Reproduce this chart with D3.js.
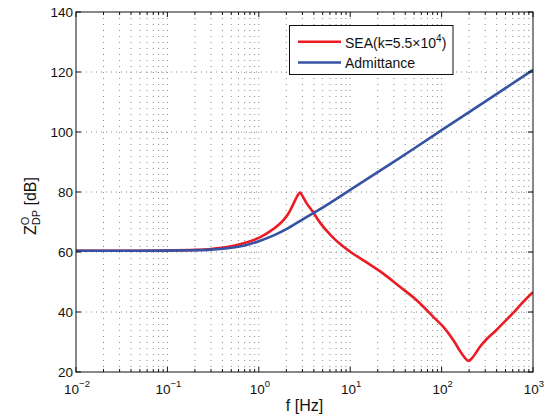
<!DOCTYPE html>
<html>
<head>
<meta charset="utf-8">
<script src="https://cdn.jsdelivr.net/npm/d3@7"></script>
<style>
  html, body { margin: 0; padding: 0; background: #fff; }
  svg { display: block; font-family: "Liberation Sans", Arial, Helvetica, sans-serif; }
</style>
</head>
<body>
<svg id="chart" width="548" height="416"></svg>
<script>
// Driving-point impedance vs frequency
const freqSEA = [0.01, 0.03, 0.1, 0.2, 0.3, 0.5, 0.7, 1, 1.3, 1.7, 2.0, 2.2, 2.5, 2.7, 2.82, 3.0, 3.34, 3.95, 4.67, 6.0, 8, 10, 15, 23, 35, 53, 81, 104, 134, 159, 180, 196, 215, 240, 263, 312, 398, 513, 660, 817, 1000];
const zSEA = [60.4, 60.4, 60.5, 60.7, 61.0, 61.9, 63.0, 64.7, 66.7, 69.4, 71.8, 73.8, 77.3, 79.2, 79.8, 78.7, 76.2, 73.2, 69.8, 65.9, 62.3, 60.1, 56.6, 52.8, 48.4, 44.0, 38.4, 35.1, 30.7, 27.0, 24.7, 23.7, 24.6, 26.6, 28.4, 31.0, 34.0, 37.4, 40.9, 44.0, 46.6];

const freqAdm = [0.01, 0.03, 0.1, 0.2, 0.3, 0.5, 0.7, 1, 1.5, 2, 3, 5, 7, 10, 20, 50, 100, 200, 500, 1000];
const zAdm = [60.4, 60.4, 60.45, 60.6, 60.8, 61.4, 62.2, 63.6, 65.7, 67.6, 70.8, 74.8, 77.6, 80.7, 86.6, 94.5, 100.6, 106.6, 114.6, 120.7];

const xTickExponents = [-2, -1, 0, 1, 2, 3];
const yTicks = [20, 40, 60, 80, 100, 120, 140];

const seriesNames = ["SEA", "Admittance"];

const svg = d3.select("#chart");
const plotL = 76, plotR = 533, plotT = 12, plotB = 372;

const x = d3.scaleLog().domain([1e-2, 1e3]).range([plotL, plotR]);
const y = d3.scaleLinear().domain([20, 140]).range([plotB, plotT]);

const red = "#ec1c24", blue = "#3652a3";

// minor decade positions
const minorX = [];
for (let e = -2; e < 3; e++) {
  for (let m = 2; m <= 9; m++) minorX.push(m * Math.pow(10, e));
}
const majorX = xTickExponents.map(e => Math.pow(10, e));

// grid
const grid = svg.append("g");
grid.selectAll("line.vg")
  .data(majorX.concat(minorX).filter(v => v > 1e-2 && v < 1e3))
  .join("line")
  .attr("x1", d => x(d)).attr("x2", d => x(d))
  .attr("y1", plotT).attr("y2", plotB)
  .attr("stroke", "#8a8a8a").attr("stroke-width", 1)
  .attr("stroke-dasharray", "1,5");
grid.selectAll("line.hg")
  .data(yTicks.filter(v => v > 20 && v < 140))
  .join("line")
  .attr("x1", plotL).attr("x2", plotR)
  .attr("y1", d => y(d)).attr("y2", d => y(d))
  .attr("stroke", "#8a8a8a").attr("stroke-width", 1)
  .attr("stroke-dasharray", "1,4");

// curves
svg.append("clipPath").attr("id", "plotClip")
  .append("rect").attr("x", plotL).attr("y", plotT)
  .attr("width", plotR - plotL).attr("height", plotB - plotT);

const line = d3.line()
  .x(d => x(d[0])).y(d => y(d[1]))
  .curve(d3.curveCatmullRom.alpha(0.5));

const curves = svg.append("g").attr("clip-path", "url(#plotClip)");
curves.append("path")
  .datum(d3.zip(freqSEA, zSEA))
  .attr("d", line).attr("fill", "none")
  .attr("stroke", red).attr("stroke-width", 2.6)
  .attr("stroke-linejoin", "round");
curves.append("path")
  .datum(d3.zip(freqAdm, zAdm))
  .attr("d", line).attr("fill", "none")
  .attr("stroke", blue).attr("stroke-width", 2.6)
  .attr("stroke-linejoin", "round");

// axes box and inward ticks
const axes = svg.append("g").attr("stroke", "#111").attr("stroke-width", 1);
axes.append("rect").attr("x", plotL).attr("y", plotT)
  .attr("width", plotR - plotL).attr("height", plotB - plotT)
  .attr("fill", "none");

const xt = majorX.map(v => ({ v, len: 5 })).concat(minorX.map(v => ({ v, len: 3 })));
axes.selectAll("line.xtb").data(xt).join("line")
  .attr("x1", d => x(d.v)).attr("x2", d => x(d.v))
  .attr("y1", plotB).attr("y2", d => plotB - d.len);
axes.selectAll("line.xtt").data(xt).join("line")
  .attr("x1", d => x(d.v)).attr("x2", d => x(d.v))
  .attr("y1", plotT).attr("y2", d => plotT + d.len);
axes.selectAll("line.ytl").data(yTicks).join("line")
  .attr("x1", plotL).attr("x2", plotL + 5)
  .attr("y1", d => y(d)).attr("y2", d => y(d));
axes.selectAll("line.ytr").data(yTicks).join("line")
  .attr("x1", plotR).attr("x2", plotR - 5)
  .attr("y1", d => y(d)).attr("y2", d => y(d));

// tick labels
const labels = svg.append("g").attr("fill", "#111");
labels.selectAll("text.yl").data(yTicks).join("text")
  .attr("x", plotL - 3).attr("y", d => y(d)).attr("dy", "0.36em")
  .attr("text-anchor", "end").attr("font-size", 13.5)
  .text(d => d);

const xl = labels.selectAll("text.xl").data(xTickExponents).join("text")
  .attr("x", d => x(Math.pow(10, d)) + 1).attr("y", 394)
  .attr("text-anchor", "middle").attr("font-size", 13.5);
xl.append("tspan").text("10");
xl.append("tspan").attr("font-size", 9.5).attr("dy", -7)
  .text(d => d < 0 ? "\u2212" + Math.abs(d) : String(d));

// axis titles
svg.append("text")
  .attr("x", (plotL + plotR) / 2).attr("y", 411)
  .attr("text-anchor", "middle").attr("font-size", 16).attr("fill", "#111")
  .text("f [Hz]");

const yt = svg.append("text")
  .attr("transform", "translate(36,206) rotate(-90)")
  .attr("text-anchor", "middle").attr("font-size", 16).attr("fill", "#111");
yt.append("tspan").text("Z");
yt.append("tspan").attr("font-size", 11).attr("dy", -7).text("O");
yt.append("tspan").attr("font-size", 11).attr("dx", -8.6).attr("dy", 11).text("DP");
yt.append("tspan").attr("dy", -4).text(" [dB]");

// legend
const lg = svg.append("g");
lg.append("rect").attr("x", 289.5).attr("y", 25.5).attr("width", 163.5).attr("height", 49)
  .attr("fill", "#fff").attr("stroke", "#111").attr("stroke-width", 1);
const legendRows = [
  { name: seriesNames[0], color: red, y: 41.7 },
  { name: seriesNames[1], color: blue, y: 62.5 }
];
lg.selectAll("line.lgl").data(legendRows).join("line")
  .attr("x1", 298).attr("x2", 341)
  .attr("y1", d => d.y).attr("y2", d => d.y)
  .attr("stroke", d => d.color).attr("stroke-width", 2.6);
const t0 = lg.append("text").attr("x", 345).attr("y", 47.5)
  .attr("font-size", 14).attr("fill", "#111");
t0.append("tspan").text(seriesNames[0] + "(k=5.5\u00d710");
t0.append("tspan").attr("font-size", 10).attr("dy", -6).text("4");
t0.append("tspan").attr("dy", 6).text(")");
lg.append("text").attr("x", 345).attr("y", 67.5)
  .attr("font-size", 14).attr("fill", "#111")
  .text(seriesNames[1]);
</script>
</body>
</html>
